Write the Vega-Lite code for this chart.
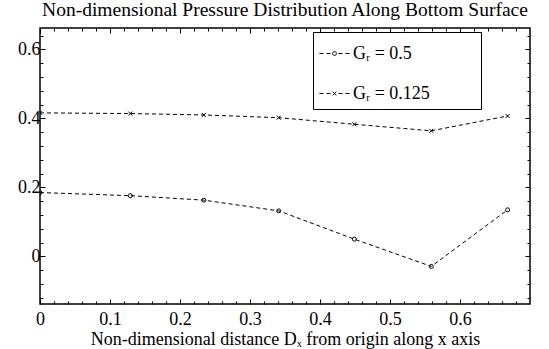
{
  "$schema": "https://vega.github.io/schema/vega-lite/v6.json",
  "width": 490,
  "height": 276,
  "autosize": "none",
  "padding": {"left": 40, "top": 28, "right": 19, "bottom": 45},
  "background": "white",
  "title": {
    "text": "Non-dimensional Pressure Distribution Along Bottom Surface",
    "font": "Liberation Serif",
    "fontSize": 19.5,
    "fontWeight": "normal",
    "color": "black",
    "anchor": "middle",
    "baseline": "alphabetic",
    "offset": 9,
    "dy": 16.5
  },
  "config": {
    "view": {"stroke": "black", "strokeWidth": 1.5},
    "axis": {
      "domain": false,
      "grid": false,
      "tickColor": "black",
      "tickWidth": 1,
      "minExtent": 0,
      "labelFont": "Liberation Serif",
      "labelFontSize": 18,
      "labelColor": "black",
      "titleFont": "Liberation Serif",
      "titleFontWeight": "normal",
      "titleColor": "black"
    }
  },
  "data": {
    "values": [
      {"x": 0.0, "y": 0.185, "Gr": "0.5"},
      {"x": 0.129, "y": 0.176, "Gr": "0.5"},
      {"x": 0.234, "y": 0.163, "Gr": "0.5"},
      {"x": 0.341, "y": 0.132, "Gr": "0.5"},
      {"x": 0.449, "y": 0.050, "Gr": "0.5"},
      {"x": 0.559, "y": -0.029, "Gr": "0.5"},
      {"x": 0.668, "y": 0.135, "Gr": "0.5"},
      {"x": 0.0, "y": 0.416, "Gr": "0.125"},
      {"x": 0.129, "y": 0.414, "Gr": "0.125"},
      {"x": 0.234, "y": 0.410, "Gr": "0.125"},
      {"x": 0.341, "y": 0.402, "Gr": "0.125"},
      {"x": 0.449, "y": 0.383, "Gr": "0.125"},
      {"x": 0.559, "y": 0.364, "Gr": "0.125"},
      {"x": 0.668, "y": 0.407, "Gr": "0.125"}
    ]
  },
  "resolve": {"axis": {"x": "independent", "y": "independent"}},
  "layer": [
    {
      "mark": {"type": "line", "color": "black", "strokeWidth": 1, "strokeDash": [4, 3], "clip": true},
      "encoding": {
        "x": {
          "field": "x", "type": "quantitative",
          "scale": {"domain": [0, 0.7], "nice": false, "zero": false},
          "axis": {
            "orient": "bottom",
            "values": [0, 0.1, 0.2, 0.3, 0.4, 0.5, 0.6],
            "format": "~g",
            "tickSize": -5,
            "labelPadding": 11,
            "labelFlush": false,
            "labelFont": "Liberation Serif",
            "labelFontSize": 18,
            "title": "Non-dimensional distance Dₓ from origin along x axis",
            "titleFont": "Liberation Serif",
            "titleFontSize": 18,
            "titlePadding": 2
          }
        },
        "y": {
          "field": "y", "type": "quantitative",
          "scale": {"domain": [-0.138, 0.662], "nice": false, "zero": false},
          "axis": {
            "orient": "left",
            "values": [0, 0.2, 0.4, 0.6],
            "format": "~g",
            "tickSize": -5,
            "labelPadding": 5,
            "labelFlush": false,
            "labelFont": "Liberation Serif",
            "labelFontSize": 18,
            "title": null
          }
        },
        "detail": {"field": "Gr"}
      }
    },
    {
      "transform": [{"filter": "datum.Gr === '0.5'"}],
      "mark": {"type": "point", "shape": "circle", "filled": false, "color": "black", "strokeWidth": 1, "size": 16, "opacity": 1, "clip": true},
      "encoding": {
        "x": {
          "field": "x", "type": "quantitative",
          "axis": {"orient": "top", "values": [0, 0.1, 0.2, 0.3, 0.4, 0.5, 0.6], "tickSize": -5, "labels": false, "title": null, "minExtent": 0, "maxExtent": 0}
        },
        "y": {
          "field": "y", "type": "quantitative",
          "axis": {"orient": "right", "values": [0, 0.2, 0.4, 0.6], "tickSize": -5, "labels": false, "title": null, "minExtent": 0, "maxExtent": 0}
        }
      }
    },
    {
      "transform": [{"filter": "datum.Gr === '0.125'"}],
      "mark": {"type": "point", "shape": "M-1,-1L1,1M-1,1L1,-1", "filled": false, "color": "black", "strokeWidth": 1, "size": 16, "opacity": 1, "clip": true},
      "encoding": {
        "x": {
          "field": "x", "type": "quantitative",
          "axis": {"orient": "bottom", "values": [0.02, 0.04, 0.06, 0.08, 0.12, 0.14, 0.16, 0.18, 0.22, 0.24, 0.26, 0.28, 0.32, 0.34, 0.36, 0.38, 0.42, 0.44, 0.46, 0.48, 0.52, 0.54, 0.56, 0.58, 0.62, 0.64, 0.66, 0.68], "tickSize": -3, "labels": false, "title": null, "minExtent": 0, "maxExtent": 0}
        },
        "y": {
          "field": "y", "type": "quantitative",
          "axis": {"orient": "left", "values": [-0.12, -0.08, -0.04, 0.04, 0.08, 0.12, 0.16, 0.24, 0.28, 0.32, 0.36, 0.44, 0.48, 0.52, 0.56, 0.64], "tickSize": -3, "labels": false, "title": null, "minExtent": 0, "maxExtent": 0}
        }
      }
    },
    {
      "mark": {"type": "point", "opacity": 0},
      "encoding": {
        "x": {
          "field": "x", "type": "quantitative",
          "axis": {"orient": "top", "values": [0.02, 0.04, 0.06, 0.08, 0.12, 0.14, 0.16, 0.18, 0.22, 0.24, 0.26, 0.28, 0.32, 0.34, 0.36, 0.38, 0.42, 0.44, 0.46, 0.48, 0.52, 0.54, 0.56, 0.58, 0.62, 0.64, 0.66, 0.68], "tickSize": -3, "labels": false, "title": null, "minExtent": 0, "maxExtent": 0}
        },
        "y": {
          "field": "y", "type": "quantitative",
          "axis": {"orient": "right", "values": [-0.12, -0.08, -0.04, 0.04, 0.08, 0.12, 0.16, 0.24, 0.28, 0.32, 0.36, 0.44, 0.48, 0.52, 0.56, 0.64], "tickSize": -3, "labels": false, "title": null, "minExtent": 0, "maxExtent": 0}
        }
      }
    },
    {
      "transform": [{"filter": "false"}],
      "mark": {"type": "point", "filled": false, "color": "black", "strokeWidth": 1, "opacity": 1},
      "encoding": {
        "shape": {
          "field": "Gr", "type": "nominal",
          "scale": {
            "domain": ["0.5", "0.125"],
            "range": [
              "M-1,0H-0.73M-0.53,0H-0.27M0.13,0A0.13,0.13,0,1,1,-0.13,0A0.13,0.13,0,1,1,0.13,0M0.27,0H0.53M0.73,0H1",
              "M-1,0H-0.73M-0.53,0H-0.27M-0.12,-0.12L0.12,0.12M-0.12,0.12L0.12,-0.12M0.27,0H0.53M0.73,0H1"
            ]
          },
          "legend": {
            "title": null,
            "orient": "none",
            "legendX": 273,
            "legendY": 4,
            "direction": "vertical",
            "padding": 6,
            "rowPadding": 15,
            "strokeColor": "black",
            "fillColor": "white",
            "cornerRadius": 0,
            "symbolSize": 900,
            "symbolStrokeWidth": 1,
            "symbolStrokeColor": "black",
            "symbolFillColor": "transparent",
            "labelOffset": 3,
            "labelFont": "Liberation Serif",
            "labelFontSize": 18,
            "labelColor": "black",
            "labelLimit": 400,
            "labelExpr": "'Gᵣ = ' + datum.label + '\u00a0\u00a0\u00a0\u00a0\u00a0\u00a0\u00a0\u00a0\u00a0\u00a0\u200b'"
          }
        }
      }
    }
  ]
}
